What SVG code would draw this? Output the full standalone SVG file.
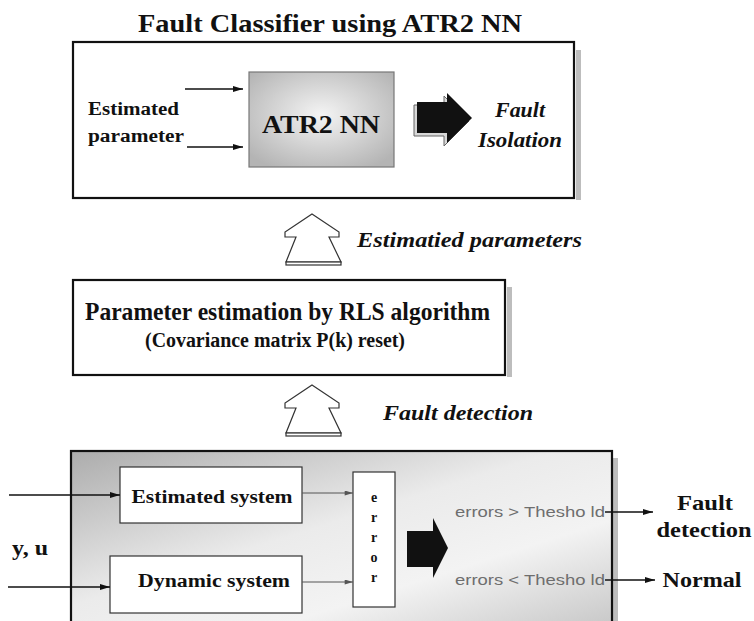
<svg xmlns="http://www.w3.org/2000/svg" width="754" height="621" viewBox="0 0 754 621">
  <style>
    .serif { font-family: "Liberation Serif", "Times New Roman", serif; font-weight: bold; fill: #111; }
    .ital { font-style: italic; }
    .sans { font-family: "Liberation Sans", Arial, sans-serif; fill: #6e6e6e; }
    .frame { fill: #fff; stroke: #111; stroke-width: 2.2; }
    .shadow { fill: #bdbdbd; }
    .wire { stroke: #111; stroke-width: 1.6; fill: none; }
    .thin { stroke: #555; stroke-width: 1; fill: none; }
    .hollow { fill: #fff; stroke: #333; stroke-width: 1.2; stroke-linejoin: miter; }
  </style>
  <defs>
    <marker id="head" viewBox="0 0 10 6" refX="10" refY="3" markerWidth="10" markerHeight="6" markerUnits="userSpaceOnUse" orient="auto">
      <path d="M0,0 L10,3 L0,6 Z" fill="#111"/>
    </marker>
    <marker id="headGrey" viewBox="0 0 10 6" refX="10" refY="3" markerWidth="9" markerHeight="5" markerUnits="userSpaceOnUse" orient="auto">
      <path d="M0,0 L10,3 L0,6 Z" fill="#555"/>
    </marker>
    <radialGradient id="nnFill" cx="0.5" cy="0.45" r="0.65">
      <stop offset="0" stop-color="#f4f4f4"/>
      <stop offset="1" stop-color="#b4b4b4"/>
    </radialGradient>
    <linearGradient id="detFill" x1="0" y1="0" x2="1" y2="1">
      <stop offset="0" stop-color="#acacac"/>
      <stop offset="0.45" stop-color="#ebebeb"/>
      <stop offset="0.7" stop-color="#f3f3f3"/>
      <stop offset="1" stop-color="#c9c9c9"/>
    </linearGradient>
  </defs>

  <!-- classifier stage -->
  <g id="classifier-title">
    <text class="serif" x="330" y="32" font-size="25" text-anchor="middle" textLength="384" lengthAdjust="spacingAndGlyphs">Fault Classifier using ATR2 NN</text>
  </g>
  <g id="classifier">
    <rect class="shadow" x="576" y="50" width="5" height="150"/>
    <rect class="frame" x="73" y="42" width="501" height="156" stroke-width="2.6"/>
    <text class="serif" x="88" y="115" font-size="18" textLength="91" lengthAdjust="spacingAndGlyphs">Estimated</text>
    <text class="serif" x="88" y="142" font-size="18" textLength="96" lengthAdjust="spacingAndGlyphs">parameter</text>
  </g>
  <g id="atr2nn">
    <rect x="249" y="72" width="145" height="95" fill="url(#nnFill)" stroke="#777" stroke-width="1.2"/>
    <text class="serif" x="321" y="133" font-size="26" text-anchor="middle" textLength="118" lengthAdjust="spacingAndGlyphs">ATR2 NN</text>
  </g>
  <g id="isolation-arrow">
    <!-- bevel edge behind the solid arrow -->
    <polygon points="414,105 444,105 444,96 469,121 444,146 444,136 414,136" fill="#d8d8d8" stroke="#666" stroke-width="1"/>
    <polygon points="417,102 447,102 447,93 472,118 447,143 447,133 417,133" fill="#111"/>
  </g>
  <g id="fault-isolation">
    <text class="serif ital" x="520" y="117" font-size="21" text-anchor="middle" textLength="50" lengthAdjust="spacingAndGlyphs">Fault</text>
    <text class="serif ital" x="520" y="147" font-size="21" text-anchor="middle" textLength="84" lengthAdjust="spacingAndGlyphs">Isolation</text>
  </g>

  <!-- estimation stage -->
  <g id="rls">
    <rect class="shadow" x="507" y="287" width="5" height="90"/>
    <rect class="frame" x="73" y="280" width="432" height="95"/>
    <text class="serif" x="85" y="320" font-size="25" textLength="405" lengthAdjust="spacingAndGlyphs">Parameter estimation by RLS algorithm</text>
    <text class="serif" x="145" y="347" font-size="20" textLength="260" lengthAdjust="spacingAndGlyphs">(Covariance matrix P(k) reset)</text>
  </g>

  <!-- detection stage -->
  <g id="detection">
    <rect class="shadow" x="613" y="458" width="5" height="163"/>
    <rect x="71" y="451" width="541" height="172" fill="url(#detFill)" stroke="#111" stroke-width="2.2"/>
  </g>
  <g id="estimated-system">
    <rect x="120" y="467" width="182" height="56" fill="#fff" stroke="#333" stroke-width="1.2"/>
    <text class="serif" x="212" y="503" font-size="18" text-anchor="middle" textLength="161" lengthAdjust="spacingAndGlyphs">Estimated system</text>
  </g>
  <g id="dynamic-system">
    <rect x="110" y="556" width="192" height="57" fill="#fff" stroke="#333" stroke-width="1.2"/>
    <text class="serif" x="214" y="587" font-size="18" text-anchor="middle" textLength="152" lengthAdjust="spacingAndGlyphs">Dynamic system</text>
  </g>
  <g id="error">
    <rect x="353" y="472" width="42" height="135" fill="#fff" stroke="#333" stroke-width="1.2"/>
    <g class="serif" font-size="14" text-anchor="middle">
      <text x="374" y="502">e</text>
      <text x="374" y="522">r</text>
      <text x="374" y="542">r</text>
      <text x="374" y="562">o</text>
      <text x="374" y="582">r</text>
    </g>
  </g>
  <g id="decision-arrow">
    <polygon points="407,531 433,531 433,518 448,548 433,578 433,567 407,567" fill="#111"/>
  </g>
  <g id="thresholds">
    <text class="sans" x="455" y="517" font-size="15" textLength="150" lengthAdjust="spacingAndGlyphs">errors &gt; Thesho ld</text>
    <text class="sans" x="455" y="585" font-size="15" textLength="150" lengthAdjust="spacingAndGlyphs">errors &lt; Thesho ld</text>
  </g>
  <g id="input-label">
    <text class="serif" x="12" y="555" font-size="20" textLength="36" lengthAdjust="spacingAndGlyphs">y, u</text>
  </g>
  <g id="outputs">
    <text class="serif" x="705" y="510" font-size="21" text-anchor="middle" textLength="56" lengthAdjust="spacingAndGlyphs">Fault</text>
    <text class="serif" x="704" y="537" font-size="21" text-anchor="middle" textLength="95" lengthAdjust="spacingAndGlyphs">detection</text>
    <text class="serif" x="702" y="587" font-size="21" text-anchor="middle" textLength="79" lengthAdjust="spacingAndGlyphs">Normal</text>
  </g>

  <!-- stage transitions -->
  <g id="up-arrows">
    <g id="up-estimated">
      <polygon class="hollow" points="312,214 339,232 339,237 329,237 341,262 286,262 296,237 285,237 285,232"/>
      <rect class="hollow" x="286" y="262" width="55" height="3"/>
      <text class="serif ital" x="357" y="247" font-size="21" textLength="225" lengthAdjust="spacingAndGlyphs">Estimatied parameters</text>
    </g>
    <g id="up-detection">
      <polygon class="hollow" points="312,385 339,403 339,408 329,408 341,433 286,433 296,408 285,408 285,403"/>
      <rect class="hollow" x="286" y="433" width="55" height="3"/>
      <text class="serif ital" x="383" y="420" font-size="20" textLength="150" lengthAdjust="spacingAndGlyphs">Fault detection</text>
    </g>
  </g>

  <!-- connectors -->
  <g id="connectors">
    <line class="wire" x1="185" y1="89" x2="243" y2="89" marker-end="url(#head)" stroke-width="1.2"/>
    <line class="wire" x1="187" y1="147" x2="243" y2="147" marker-end="url(#head)" stroke-width="1.2"/>
    <line class="wire" x1="9" y1="495" x2="120" y2="495" marker-end="url(#head)"/>
    <line class="wire" x1="8" y1="587" x2="110" y2="587" marker-end="url(#head)"/>
    <line class="thin" x1="302" y1="493" x2="353" y2="493" marker-end="url(#headGrey)"/>
    <line class="thin" x1="302" y1="582" x2="353" y2="582" marker-end="url(#headGrey)"/>
    <line class="wire" x1="605" y1="512" x2="653" y2="512" marker-end="url(#head)"/>
    <line class="wire" x1="605" y1="580" x2="655" y2="580" marker-end="url(#head)"/>
  </g>
</svg>
